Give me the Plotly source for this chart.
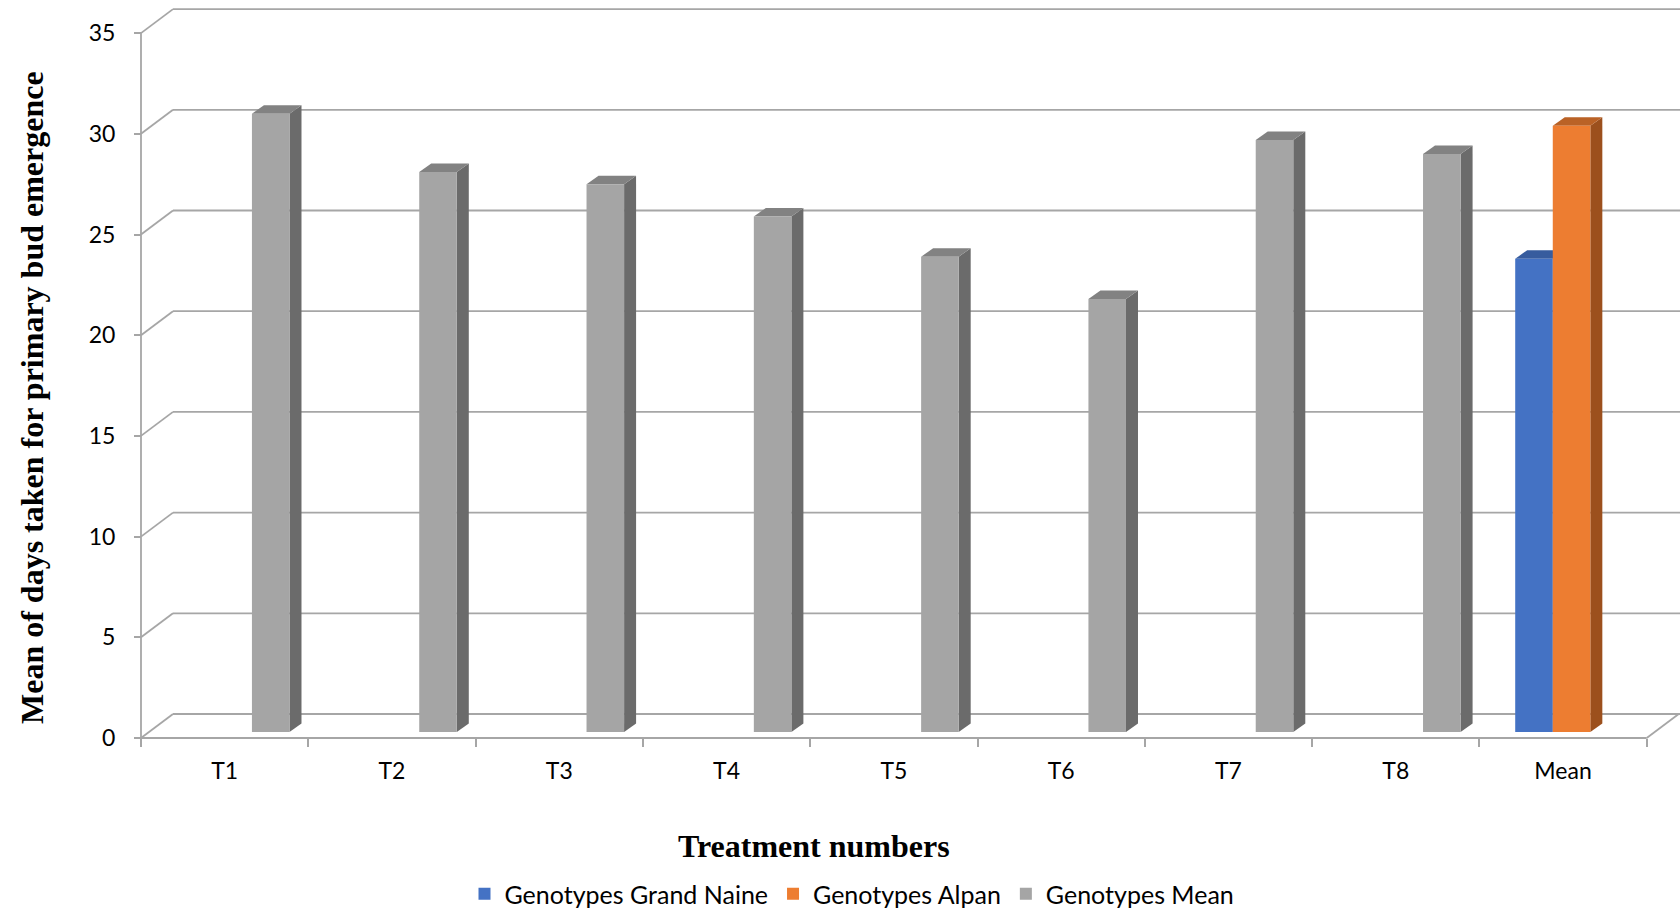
import numpy as np
import plotly.graph_objects as go

# ---------------- data ----------------
categories = ["T1", "T2", "T3", "T4", "T5", "T6", "T7", "T8", "Mean"]
grand_naine = [None, None, None, None, None, None, None, None, 23.5]
alpan = [None, None, None, None, None, None, None, None, 30.1]
genotypes_mean = [30.7, 27.8, 27.2, 25.6, 23.6, 21.5, 29.4, 28.7, None]
y_tick_values = [0, 5, 10, 15, 20, 25, 30, 35]

series_names = ["Genotypes Grand Naine", "Genotypes Alpan", "Genotypes Mean"]
front_colors = ["#4472C4", "#ED7D31", "#A5A5A5"]
top_colors = ["#375C9E", "#BA6226", "#828282"]
side_colors = ["#2E4F89", "#9C501D", "#6B6B6B"]

# ---------------- geometry (pixels) ----------------
W, H = 1680, 912
X0, Y0 = 141.0, 738.0          # front-left-bottom corner of the 3D box
CAT_PX = 167.3                 # width of one category on the front plane
UNIT_PX = 20.14                # pixels per value unit
WALL_DX, WALL_DY = 32.0, 24.0  # depth offset of the back wall
BAR_DX, BAR_DY = 8.5, 6.0      # depth offset of the bars' front faces
FACE_DX, FACE_DY = 12.0, 8.5   # depth of each bar
BAR_W = 0.2245                 # bar width in category units
PAD = 4.0

ML = X0 - PAD
MR = 0
MT = 8
MB = H - (Y0 + PAD)
PW = W - ML - MR
PH = H - MT - MB

n = len(categories)
x_lo = -0.5 - PAD / CAT_PX
x_hi = x_lo + PW / CAT_PX
y_lo = -PAD / UNIT_PX
y_hi = y_lo + PH / UNIT_PX


def px_x(d):
    return d / CAT_PX


def px_y(d):
    return d / UNIT_PX


def paper_x(px):
    return (px - ML) / PW


def paper_y(py):
    return (H - MB - py) / PH


grid_color = "#A6A6A6"
grid_w = 1.8
x_left, x_right = -0.5, n - 0.5
wdx, wdy = px_x(WALL_DX), px_y(WALL_DY)

shapes = []


def line(x0, y0, x1, y1):
    shapes.append(dict(type="line", xref="x", yref="y", x0=x0, y0=y0, x1=x1, y1=y1,
                       line=dict(color=grid_color, width=grid_w), layer="below"))


for v in y_tick_values:
    line(x_left, v, x_left + wdx, v + wdy)
    line(x_left + wdx, v + wdy, x_hi + 1, v + wdy)
line(x_left, 0, x_left, y_tick_values[-1])
line(x_left, 0, x_right, 0)
line(x_right, 0, x_right + wdx, wdy)

base = px_y(BAR_DY)
shift = px_x(BAR_DX)
fdx, fdy = px_x(FACE_DX), px_y(FACE_DY)
positions = np.arange(n) + shift
series = [grand_naine, alpan, genotypes_mean]


def poly(pts, color):
    d = "M " + " L ".join(f"{x},{y}" for x, y in pts) + " Z"
    shapes.append(dict(type="path", xref="x", yref="y", path=d, fillcolor=color,
                       line=dict(width=0), layer="below"))


for k, vals in enumerate(series):
    for i, v in enumerate(vals):
        if v is None:
            continue
        xl = positions[i] + (k - 1.5) * BAR_W
        xr = xl + BAR_W
        top = base + v
        poly([(xr, base), (xr + fdx, base + fdy), (xr + fdx, top + fdy), (xr, top)], side_colors[k])
        poly([(xl, top), (xr, top), (xr + fdx, top + fdy), (xl + fdx, top + fdy)], top_colors[k])

fig = go.Figure()
for k, vals in enumerate(series):
    fig.add_trace(go.Bar(
        x=positions, y=vals, base=base, width=BAR_W, offset=(k - 1.5) * BAR_W,
        name=series_names[k], marker=dict(color=front_colors[k], line=dict(width=0)),
    ))

tick_font = dict(family="Lato", size=23, color="#000000")

fig.update_layout(
    width=W, height=H,
    margin=dict(l=ML, r=MR, t=MT, b=MB, pad=0, autoexpand=False),
    paper_bgcolor="white", plot_bgcolor="white",
    barmode="overlay",
    showlegend=True,
    legend=dict(orientation="h", x=paper_x(852), xanchor="center", y=paper_y(894), yanchor="middle",
                font=dict(family="Lato", size=25, color="#000000"), traceorder="normal"),
    xaxis=dict(range=[x_lo, x_hi], anchor="free", position=PAD / PH,
               tickmode="array", tickvals=list(range(n)), ticktext=categories,
               ticks="", showgrid=False, zeroline=False, showline=False,
               tickfont=tick_font, ticklabelstandoff=17,
               minor=dict(tickmode="array", tickvals=[i - 0.5 for i in range(n + 1)],
                          ticks="outside", ticklen=8, tickwidth=1.8, tickcolor=grid_color)),
    yaxis=dict(range=[y_lo, y_hi], anchor="free", position=PAD / PW,
               tickmode="array", tickvals=y_tick_values,
               ticks="outside", ticklen=7, tickwidth=1.8, tickcolor=grid_color,
               showgrid=False, zeroline=False, showline=False,
               tickfont=tick_font, ticklabelstandoff=14),
    shapes=shapes,
    annotations=[
        dict(text="<b>Mean of days taken for primary bud emergence</b>", textangle=-90,
             xref="paper", yref="paper", x=paper_x(32), y=paper_y(398),
             xanchor="center", yanchor="middle", showarrow=False,
             font=dict(family="Liberation Serif", size=32, color="#000000")),
        dict(text="<b>Treatment numbers</b>",
             xref="paper", yref="paper", x=paper_x(814), y=paper_y(846),
             xanchor="center", yanchor="middle", showarrow=False,
             font=dict(family="Liberation Serif", size=32, color="#000000")),
    ],
)

fig.write_html("out.html", config={"displayModeBar": False},
               post_script="document.body.style.margin='0px';document.body.style.overflow='hidden';")
